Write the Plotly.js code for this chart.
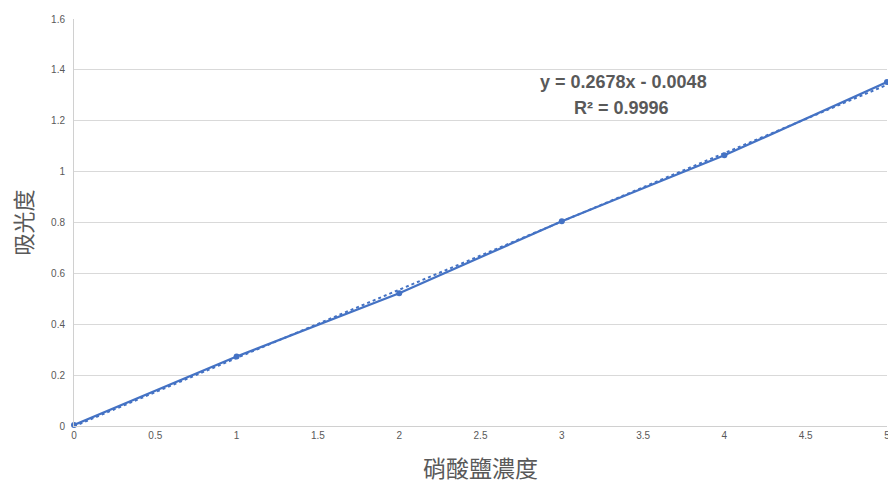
<!DOCTYPE html>
<html>
<head>
<meta charset="utf-8">
<script src="https://cdn.plot.ly/plotly-3.0.1.min.js"></script>
<style>html,body{margin:0;padding:0;background:#fff;}#chart{width:888px;height:484px;}</style>
</head>
<body>
<div id="chart"></div>
<script>
// Data
const concentration = [0, 1, 2, 3, 4, 5];
const absorbance = [0.004, 0.273, 0.522, 0.805, 1.064, 1.352];
const xTickVals = [0, 0.5, 1, 1.5, 2, 2.5, 3, 3.5, 4, 4.5, 5];
const xTickText = ['0', '0.5', '1', '1.5', '2', '2.5', '3', '3.5', '4', '4.5', '5'];
const yTickVals = [0, 0.2, 0.4, 0.6, 0.8, 1, 1.2, 1.4, 1.6];
const yTickText = ['0', '0.2', '0.4', '0.6', '0.8', '1', '1.2', '1.4', '1.6'];
const equationText = 'y = 0.2678x - 0.0048';
const r2Text = 'R² = 0.9996';
const xTitle = '硝酸鹽濃度';
const yTitle = '吸光度';

// least squares trendline from the data
const n = concentration.length;
const mx = concentration.reduce((a, b) => a + b, 0) / n;
const my = absorbance.reduce((a, b) => a + b, 0) / n;
let sxy = 0, sxx = 0;
for (let i = 0; i < n; i++) {
  sxy += (concentration[i] - mx) * (absorbance[i] - my);
  sxx += (concentration[i] - mx) ** 2;
}
const slope = sxy / sxx;
const intercept = my - slope * mx;
const trendX = [concentration[0], concentration[n - 1]];
const trendY = trendX.map(x => slope * x + intercept);

const blue = '#4472C4';
const gray = '#595959';

const traces = [
  {
    x: trendX, y: trendY, type: 'scatter', mode: 'lines',
    line: {color: blue, width: 2, dash: 'dot'}, hoverinfo: 'skip', cliponaxis: false
  },
  {
    x: concentration, y: absorbance, type: 'scatter', mode: 'lines+markers',
    line: {color: blue, width: 2.25}, marker: {color: blue, size: 6},
    cliponaxis: false
  }
];

const layout = {
  width: 888, height: 484,
  margin: {l: 74, r: 1, t: 19, b: 58},
  paper_bgcolor: '#ffffff', plot_bgcolor: '#ffffff',
  showlegend: false,
  font: {family: 'Liberation Sans, Arial, sans-serif', color: gray},
  xaxis: {
    range: [0, 5], tickvals: xTickVals, ticktext: xTickText,
    showgrid: false, zeroline: false, showline: true, linecolor: '#d0d0d0', linewidth: 1,
    ticks: '', tickfont: {size: 10, color: gray}, ticklabeloverflow: 'allow',
    title: {text: xTitle, font: {family: 'Noto Sans CJK TC, sans-serif', size: 23, color: gray}, standoff: 21}
  },
  yaxis: {
    range: [0, 1.6], tickvals: yTickVals, ticktext: yTickText,
    showgrid: true, gridcolor: '#d9d9d9', gridwidth: 1,
    zeroline: false, showline: true, linecolor: '#d0d0d0', linewidth: 1,
    ticks: '', tickfont: {size: 10, color: gray}, ticklabelstandoff: 6,
    title: {text: yTitle, font: {family: 'Noto Sans CJK TC, sans-serif', size: 22, color: gray}, standoff: 12}
  },
  annotations: [
    {x: 0.676, y: 0.845, xref: 'paper', yref: 'paper', xanchor: 'center', yanchor: 'middle',
     text: '<b>' + equationText + '</b>',
     showarrow: false, font: {family: 'Liberation Sans, Arial, sans-serif', size: 18, color: gray}},
    {x: 0.673, y: 0.781, xref: 'paper', yref: 'paper', xanchor: 'center', yanchor: 'middle',
     text: '<b>' + r2Text + '</b>',
     showarrow: false, font: {family: 'Liberation Sans, Arial, sans-serif', size: 18, color: gray}}
  ]
};

Plotly.newPlot('chart', traces, layout, {displayModeBar: false, staticPlot: true});
</script>
</body>
</html>
